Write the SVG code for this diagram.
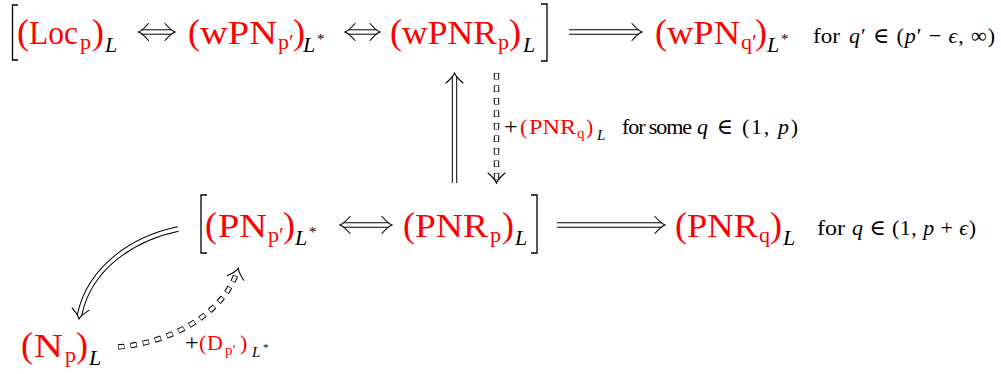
<svg xmlns="http://www.w3.org/2000/svg" width="1001" height="374" viewBox="0 0 1001 374">
<style>
text { font-family: "Liberation Serif", "DejaVu Serif", serif; }
.m { font-size: 33px; fill: #f00; }
.p { font-size: 36px; }
.s { font-size: 22px; }
.k { fill: #000; }
.r { fill: #f00; }
.i { font-style: italic; }
.lb { font-size: 22px; fill: #000; }
.ls { font-size: 15px; }
.st { font-size: 15px; }
.st2 { font-size: 11px; }
.dk { fill: none; stroke: #000; stroke-width: 5.4; }
.dw { fill: none; stroke: #fff; stroke-width: 3.4; }
.dsk { stroke-dasharray: 6.5 6; }
.dsw { stroke-dasharray: 5.3 7.2; stroke-dashoffset: -0.6; }
.hd { fill: none; stroke: #000; stroke-width: 1.1; stroke-linecap: round; }
.br { fill: none; stroke: #000; stroke-width: 1.3; }
</style>
<defs>
<path id="ah" d="M-10,-8.5 Q-4,-1.5 0,0 Q-4,1.5 -10,8.5"/>
</defs>
<rect width="1001" height="374" fill="#fff"/>

<g id="brackets">
<path class="br" d="M18,5 H12.5 V60 H18"/>
<path class="br" d="M541,4 H547 V61 H541"/>
<path class="br" d="M207,195 H201 V253 H207"/>
<path class="br" d="M531,195 H537 V253 H531"/>
</g>

<g id="node-loc">
<text class="m" y="44"><tspan x="17" class="p">(</tspan><tspan x="29" textLength="49" lengthAdjust="spacingAndGlyphs">Loc</tspan><tspan x="80" y="49" class="s">p</tspan><tspan x="92" y="44" class="p">)</tspan><tspan x="105" y="52" class="s i k">L</tspan></text>
</g>

<g id="node-wpn-p">
<text class="m" y="44"><tspan x="188" class="p">(</tspan><tspan x="200" textLength="77" lengthAdjust="spacingAndGlyphs">wPN</tspan><tspan x="278" y="49" class="s">p′</tspan><tspan x="293" y="44" class="p">)</tspan><tspan x="303" y="52" class="s i k">L</tspan><tspan x="317" y="44" class="st k">*</tspan></text>
</g>

<g id="node-wpnr-p">
<text class="m" y="44"><tspan x="390" class="p">(</tspan><tspan x="402" textLength="95" lengthAdjust="spacingAndGlyphs">wPNR</tspan><tspan x="498" y="49" class="s">p</tspan><tspan x="509" y="44" class="p">)</tspan><tspan x="523" y="52" class="s i k">L</tspan></text>
</g>

<g id="node-wpn-q">
<text class="m" y="44"><tspan x="655" class="p">(</tspan><tspan x="667" textLength="73" lengthAdjust="spacingAndGlyphs">wPN</tspan><tspan x="741" y="49" class="s">q′</tspan><tspan x="755" y="44" class="p">)</tspan><tspan x="767" y="52" class="s i k">L</tspan><tspan x="781" y="44" class="st k">*</tspan></text>
<text class="lb" x="813" y="43" textLength="27" lengthAdjust="spacingAndGlyphs">for</text>
<text class="lb" x="849" y="43" textLength="146" lengthAdjust="spacing"><tspan class="i">q</tspan>′ ∈ (<tspan class="i">p</tspan>′ − <tspan class="i">ϵ</tspan>, ∞)</text>
</g>

<g id="node-pn-p">
<text class="m" y="237"><tspan x="205" class="p">(</tspan><tspan x="218" textLength="49" lengthAdjust="spacingAndGlyphs">PN</tspan><tspan x="268" y="242" class="s">p′</tspan><tspan x="283" y="237" class="p">)</tspan><tspan x="295" y="245" class="s i k">L</tspan><tspan x="309" y="237" class="st k">*</tspan></text>
</g>

<g id="node-pnr-p">
<text class="m" y="237"><tspan x="403" class="p">(</tspan><tspan x="415" textLength="73" lengthAdjust="spacingAndGlyphs">PNR</tspan><tspan x="490" y="242" class="s">p</tspan><tspan x="502" y="237" class="p">)</tspan><tspan x="515" y="245" class="s i k">L</tspan></text>
</g>

<g id="node-pnr-q">
<text class="m" y="237"><tspan x="675" class="p">(</tspan><tspan x="687" textLength="71" lengthAdjust="spacingAndGlyphs">PNR</tspan><tspan x="759" y="242" class="s">q</tspan><tspan x="770" y="237" class="p">)</tspan><tspan x="783" y="245" class="s i k">L</tspan></text>
<text class="lb" x="817" y="235" textLength="28" lengthAdjust="spacingAndGlyphs">for</text>
<text class="lb" x="852" y="235" textLength="124" lengthAdjust="spacing"><tspan class="i">q</tspan> ∈ (1, <tspan class="i">p</tspan> + <tspan class="i">ϵ</tspan>)</text>
</g>

<g id="node-n-p">
<text class="m" y="357"><tspan x="21" class="p">(</tspan><tspan x="34" textLength="29" lengthAdjust="spacingAndGlyphs">N</tspan><tspan x="65" y="362" class="s">p</tspan><tspan x="76" y="357" class="p">)</tspan><tspan x="89" y="365" class="s i k">L</tspan></text>
</g>

<g id="connectors">
<path class="dk" d="M141,32 H172"/><path class="dw" d="M141,32 H172"/>
<use href="#ah" class="hd" transform="translate(138.5,32) rotate(180)"/>
<use href="#ah" class="hd" transform="translate(175,32)"/>
<path class="dk" d="M348,32 H377"/><path class="dw" d="M348,32 H377"/>
<use href="#ah" class="hd" transform="translate(345,32) rotate(180)"/>
<use href="#ah" class="hd" transform="translate(380,32)"/>
<path class="dk" d="M569,32 H639"/><path class="dw" d="M569,32 H639"/>
<use href="#ah" class="hd" transform="translate(642,32)"/>
<path class="dk" d="M343,225 H389"/><path class="dw" d="M343,225 H389"/>
<use href="#ah" class="hd" transform="translate(340,225) rotate(180)"/>
<use href="#ah" class="hd" transform="translate(392,225)"/>
<path class="dk" d="M557,225 H662"/><path class="dw" d="M557,225 H662"/>
<use href="#ah" class="hd" transform="translate(665,225)"/>
<path class="dk" d="M454.5,183 V76"/><path class="dw" d="M454.5,183 V76"/>
<use href="#ah" class="hd" transform="translate(454.5,73) rotate(-90)"/>
<path class="dk dsk" d="M496.5,73 V180"/><path class="dw dsw" d="M496.5,73 V180"/>
<use href="#ah" class="hd" transform="translate(496.5,183) rotate(90)"/>
<text class="lb" y="134"><tspan x="504" font-size="24">+</tspan><tspan x="520" class="r">(</tspan><tspan x="529" class="r" textLength="47" lengthAdjust="spacingAndGlyphs">PNR</tspan><tspan x="577" y="138" class="ls r">q</tspan><tspan x="586" y="134" class="r">)</tspan><tspan x="597" y="140" class="ls i">L</tspan></text>
<text class="lb" x="622" y="134" textLength="70" lengthAdjust="spacing">for some</text>
<text class="lb" x="697" y="134" textLength="101" lengthAdjust="spacing"><tspan class="i">q</tspan> ∈ (1, <tspan class="i">p</tspan>)</text>
<path class="dk" d="M178,229 C135,238 90,266 79.5,315"/><path class="dw" d="M178,229 C135,238 90,266 79.5,315"/>
<use href="#ah" class="hd" transform="translate(79,319) rotate(98.6)"/>
<path class="dk dsk" d="M118,347 C170,343 222,315 237,272"/><path class="dw dsw" d="M118,347 C170,343 222,315 237,272"/>
<use href="#ah" class="hd" transform="translate(238.3,268.3) rotate(-74)"/>
<text class="lb" y="350"><tspan x="185" font-size="24">+</tspan><tspan x="199" class="r">(</tspan><tspan x="207" class="r">D</tspan><tspan x="225" y="355" class="ls r">p′</tspan><tspan x="240" y="350" class="r">)</tspan><tspan x="252" y="357" class="ls i">L</tspan><tspan x="263" y="351" class="st2">*</tspan></text>
</g>
</svg>
